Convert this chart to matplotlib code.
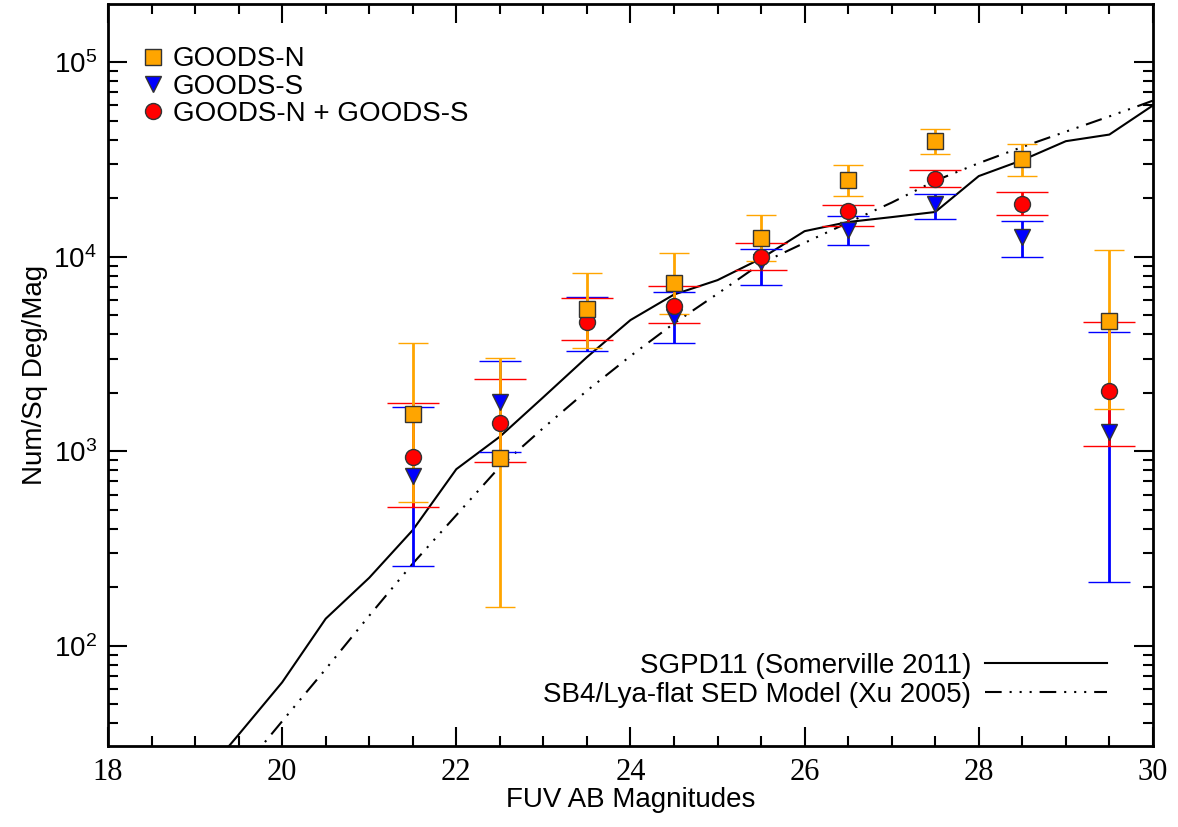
import numpy as np
import matplotlib
matplotlib.use("Agg")
import matplotlib.pyplot as plt
from matplotlib.lines import Line2D
from matplotlib.ticker import MultipleLocator, LogLocator, FixedLocator, NullFormatter

plt.rcParams['font.family'] = ['Liberation Sans', 'DejaVu Sans']
plt.rcParams['mathtext.default'] = 'regular'

# bin centres (FUV AB mag)
mag = [21.5, 22.5, 23.5, 24.5, 25.5, 26.5, 27.5, 28.5, 29.5]

# GOODS-N
n_val = [1550, 921, 5390, 7330, 12520, 24780, 39290, 31660, 4670]
n_hi = [3590, 3030, 8250, 10450, 16310, 29700, 45640, 38230, 10820]
n_lo = [550, 159, 3400, 5060, 9500, 20570, 33700, 26060, 1656]

# GOODS-S
s_val = [750, 1800, 4600, 4920, 9360, 13710, 18580, 12660, 1262]
s_hi = [1683, 2913, 6200, 6590, 11000, 16130, 21000, 15190, 4090]
s_lo = [258, 988, 3280, 3600, 7160, 11520, 15620, 10000, 214]

# GOODS-N + GOODS-S
c_val = [940, 1405, 4640, 5580, 10000, 17170, 25070, 18640, 2043]
c_hi = [1766, 2355, 6115, 7100, 11800, 18500, 28100, 21570, 4620]
c_lo = [516, 885, 3720, 4550, 8510, 14330, 22800, 16310, 1070]

# model curves
model_mag = [19.0, 19.5, 20.0, 20.5, 21.0, 21.5, 22.0, 22.5, 23.0, 23.5, 24.0, 24.5,
             25.0, 25.5, 26.0, 26.5, 27.0, 27.5, 28.0, 28.5, 29.0, 29.5, 30.0]
sgpd11 = [19, 35, 65, 138, 224, 394, 810, 1190, 1900, 3050, 4730, 6400,
          7590, 9800, 13550, 15100, 16000, 17000, 26000, 31400, 39300, 42500, 60000]
xu05 = [14, 22, 41, 76, 143, 265, 470, 834, 1320, 2050, 3090, 4550,
        6460, 9250, 11800, 15000, 19000, 24600, 30300, 36700, 44000, 52700, 63500]

dashdot3 = (0, (8, 3.8, 1, 3.8, 1, 3.8, 1, 3.8))

fig = plt.figure(figsize=(11.78, 8.27), dpi=100)
ax = fig.add_axes([0.0917, 0.098, 0.887, 0.897])

ax.plot(model_mag, sgpd11, color='black', lw=1.5, zorder=2)
ax.plot(model_mag, xu05, color='black', lw=1.5, zorder=2, linestyle=dashdot3)

def draw(vals, lo, hi, color, marker, ms, cap):
    v = np.array(vals, float)
    err = [v - np.array(lo), np.array(hi) - v]
    ax.errorbar(mag, v, yerr=err, fmt=marker, color=color, ecolor=color,
                mfc=color, mec='#333333', mew=1, ms=ms, elinewidth=2,
                capsize=cap, capthick=2.2, zorder=3)

draw(s_val, s_lo, s_hi, '#0000ff', 'v', 12, 15)
draw(c_val, c_lo, c_hi, '#ff0000', 'o', 11.5, 19)
draw(n_val, n_lo, n_hi, '#ffa500', 's', 11, 11)

ax.set_yscale('log')
ax.set_xlim(18, 30)
ax.set_ylim(30.6, 1.99e5)

ax.xaxis.set_major_locator(MultipleLocator(2))
ax.xaxis.set_minor_locator(MultipleLocator(0.5))
ax.yaxis.set_major_locator(FixedLocator([1e2, 1e3, 1e4, 1e5]))
ax.yaxis.set_minor_locator(LogLocator(base=10, subs=np.arange(2, 10), numticks=20))
ax.yaxis.set_minor_formatter(NullFormatter())
ax.set_yticklabels(['10$^{2}$', '10$^{3}$', '10$^{4}$', '10$^{5}$'], fontsize=20)
ax.set_xticks([18, 20, 22, 24, 26, 28, 30])
ax.set_xticklabels(['18', '20', '22', '24', '26', '28', '30'],
                   fontfamily='Liberation Serif', fontsize=22)

ax.tick_params(which='both', direction='in', top=True, right=True, width=1.5)
ax.tick_params(which='major', length=14)
ax.tick_params(axis='x', which='major', pad=9)
ax.tick_params(axis='y', which='major', pad=8)
ax.tick_params(which='minor', length=7)
for sp in ax.spines.values():
    sp.set_linewidth(2)

ax.set_xlabel('FUV AB Magnitudes', fontsize=20, labelpad=0)
ax.set_ylabel('Num/Sq Deg/Mag', fontsize=20, labelpad=4)

pts = [Line2D([], [], ls='none', marker='s', ms=11, mfc='#ffa500', mec='#333333'),
       Line2D([], [], ls='none', marker='v', ms=12, mfc='#0000ff', mec='#333333'),
       Line2D([], [], ls='none', marker='o', ms=11.5, mfc='#ff0000', mec='#333333')]
leg1 = ax.legend(pts, ['GOODS-N', 'GOODS-S', 'GOODS-N + GOODS-S'], loc='upper left',
                 frameon=False, fontsize=20, handlelength=0.8, handletextpad=0.3,
                 labelspacing=0.05, borderaxespad=0, bbox_to_anchor=(0.022, 0.958))
ax.add_artist(leg1)

mods = [Line2D([], [], color='black', lw=1.5),
        Line2D([], [], color='black', lw=1.5, linestyle=dashdot3)]
ax.legend(mods, ['SGPD11 (Somerville 2011)', 'SB4/Lya-flat SED Model (Xu 2005)'],
          loc='lower right', frameon=False, fontsize=20, markerfirst=False,
          handlelength=4.4, handletextpad=0.5, labelspacing=0.12,
          borderaxespad=0, bbox_to_anchor=(0.967, 0.036))

fig.savefig('out.png', dpi=100)
